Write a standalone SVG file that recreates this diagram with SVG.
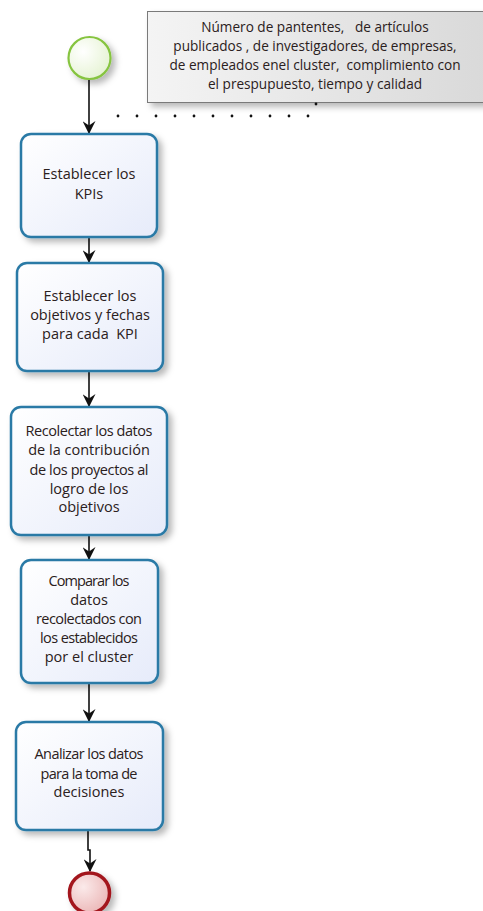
<svg xmlns="http://www.w3.org/2000/svg" width="483" height="911" viewBox="0 0 483 911">
  <defs>
    <linearGradient id="taskFill" x1="0" y1="0" x2="1" y2="1">
      <stop offset="0" stop-color="#ffffff"/>
      <stop offset="1" stop-color="#e6ebfa"/>
    </linearGradient>
    <linearGradient id="noteFill" x1="0" y1="0" x2="1" y2="0">
      <stop offset="0" stop-color="#f4f4f4"/>
      <stop offset="1" stop-color="#d9d9d9"/>
    </linearGradient>
    <radialGradient id="startFill" cx="0.35" cy="0.35" r="0.75">
      <stop offset="0" stop-color="#ffffff"/>
      <stop offset="1" stop-color="#e4f2d0"/>
    </radialGradient>
    <radialGradient id="endFill" cx="0.35" cy="0.35" r="0.75">
      <stop offset="0" stop-color="#fbeaea"/>
      <stop offset="1" stop-color="#eab4b4"/>
    </radialGradient>
    <filter id="shadow" x="-20%" y="-20%" width="150%" height="150%">
      <feDropShadow dx="4" dy="4" stdDeviation="3" flood-color="#000" flood-opacity="0.28"/>
    </filter>
    <marker id="arrow" viewBox="0 0 12 12" refX="11" refY="6" markerWidth="13" markerHeight="13" markerUnits="userSpaceOnUse" orient="auto">
      <path d="M0,0 L12,6 L0,12 L4,6 Z" fill="#111"/>
    </marker>
  </defs>
  <style>
    .task rect { fill: url(#taskFill); stroke: #2b7aa6; stroke-width: 2.5; filter: url(#shadow); }
    .label { font-family: "Open Sans", "Noto Sans", sans-serif; font-size: 14.5px; fill: #2a2020; text-anchor: middle; white-space: pre; }
    .note-text { font-family: "Open Sans", "Noto Sans", sans-serif; font-size: 13.6px; fill: #2a2020; text-anchor: middle; white-space: pre; }
    .flow { stroke: #111; stroke-width: 1.6; fill: none; marker-end: url(#arrow); }
    .assoc { stroke: #111; stroke-width: 2.8; stroke-linecap: round; stroke-dasharray: 0 19; fill: none; }
  </style>

  <!-- annotation -->
  <g id="note">
    <rect x="147.5" y="11.5" width="340" height="91" fill="url(#noteFill)" stroke="#7a7a7a" stroke-width="1" filter="url(#shadow)"/>
    <text class="note-text" x="315" y="32" xml:space="preserve">Número de pantentes,   de artículos</text>
    <text class="note-text" x="315" y="51" xml:space="preserve">publicados , de investigadores, de empresas,</text>
    <text class="note-text" x="315" y="70" xml:space="preserve">de empleados enel cluster,  complimiento con</text>
    <text class="note-text" x="315" y="89" xml:space="preserve">el prespupuesto, tiempo y calidad</text>
  </g>

  <!-- connectors -->
  <g id="connectors">
    <path class="assoc" d="M316,104 L316,104"/>
    <path class="assoc" d="M308,116 L99,116"/>
    <line class="flow" x1="89" y1="80" x2="89" y2="133"/>
    <line class="flow" x1="89" y1="238" x2="89" y2="262"/>
    <line class="flow" x1="89" y1="372" x2="89" y2="406"/>
    <line class="flow" x1="89" y1="536" x2="89" y2="559"/>
    <line class="flow" x1="89" y1="684" x2="89" y2="721"/>
    <path class="flow" d="M88,831 L88,850 L90,850 L90,871"/>
  </g>

  <!-- start event -->
  <g id="start">
    <circle cx="89.5" cy="58" r="21" fill="url(#startFill)" stroke="#86c440" stroke-width="2.2" filter="url(#shadow)"/>
  </g>

  <g id="task1" class="task">
    <rect x="21" y="134" width="136" height="103" rx="10"/>
    <text class="label" x="89" y="179">Establecer los</text>
    <text class="label" x="89" y="199">KPIs</text>
  </g>

  <g id="task2" class="task">
    <rect x="17" y="263" width="146" height="108" rx="10"/>
    <text class="label" x="90" y="301">Establecer los</text>
    <text class="label" x="90" y="320">objetivos y fechas</text>
    <text class="label" x="90" y="339" xml:space="preserve">para cada  KPI</text>
  </g>

  <g id="task3" class="task">
    <rect x="11" y="407" width="156" height="128" rx="10"/>
    <text class="label" x="89" y="436" textLength="127" lengthAdjust="spacing">Recolectar los datos</text>
    <text class="label" x="89" y="455">de la contribución</text>
    <text class="label" x="89" y="475" textLength="119" lengthAdjust="spacing">de los proyectos al</text>
    <text class="label" x="89" y="494">logro de los</text>
    <text class="label" x="89" y="512">objetivos</text>
  </g>

  <g id="task4" class="task">
    <rect x="21" y="560" width="137" height="123" rx="10"/>
    <text class="label" x="89" y="586" textLength="81" lengthAdjust="spacing">Comparar los</text>
    <text class="label" x="89" y="605">datos</text>
    <text class="label" x="89" y="624" textLength="106" lengthAdjust="spacing">recolectados con</text>
    <text class="label" x="89" y="643" textLength="98" lengthAdjust="spacing">los establecidos</text>
    <text class="label" x="89" y="662">por el cluster</text>
  </g>

  <g id="task5" class="task">
    <rect x="16" y="722" width="147" height="108" rx="10"/>
    <text class="label" x="89" y="759" textLength="109" lengthAdjust="spacing">Analizar los datos</text>
    <text class="label" x="89" y="779" textLength="97" lengthAdjust="spacing">para la toma de</text>
    <text class="label" x="89" y="797">decisiones</text>
  </g>

  <!-- end event -->
  <g id="end">
    <circle cx="89.5" cy="893" r="20" fill="url(#endFill)" stroke="#a3161f" stroke-width="3.5" filter="url(#shadow)"/>
  </g>
</svg>
